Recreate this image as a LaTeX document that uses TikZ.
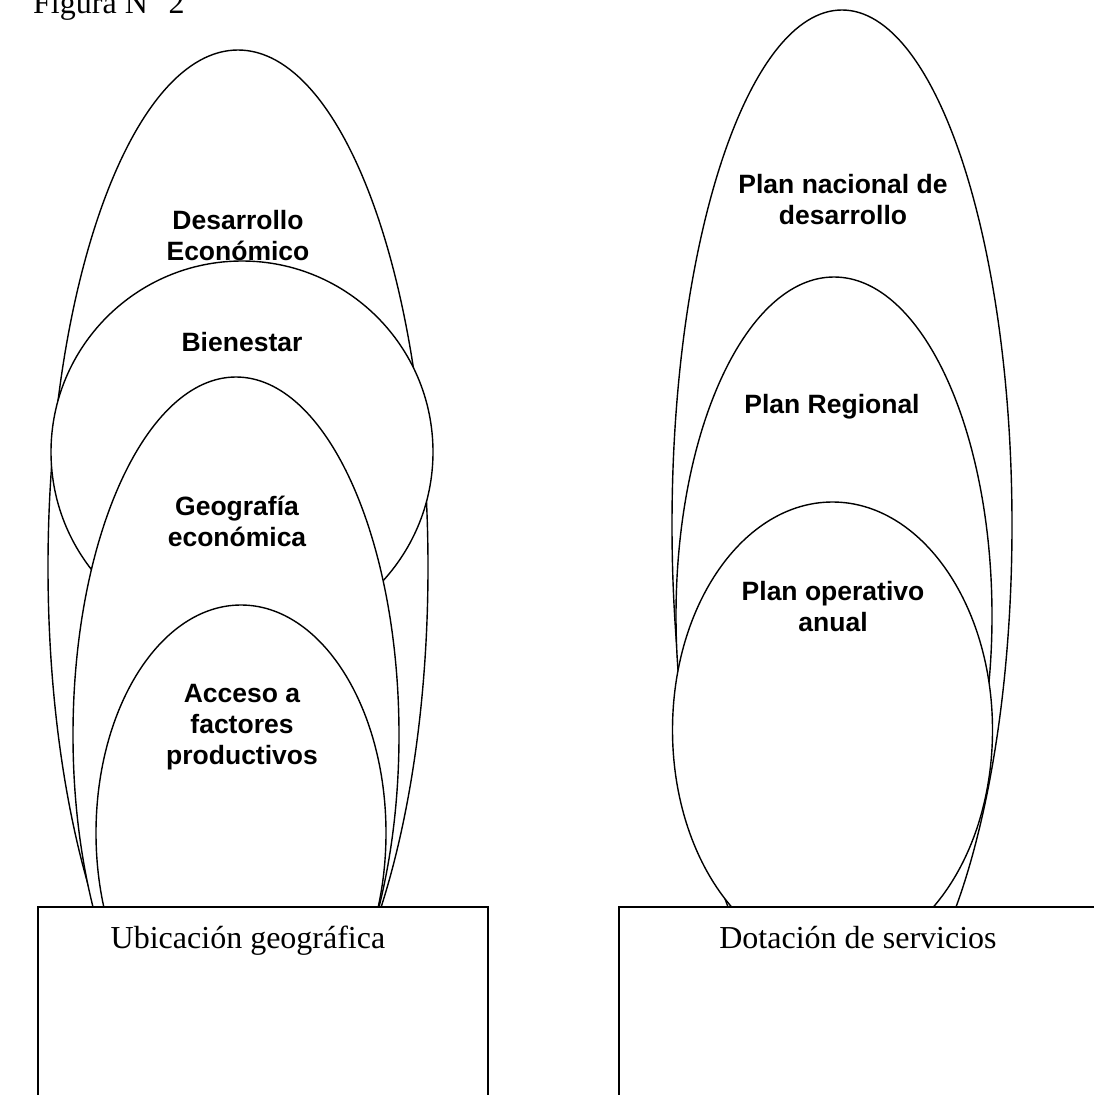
\documentclass[tikz,border=0pt]{standalone}
\usepackage{fontspec}
\setmainfont{Liberation Serif}
\newfontfamily\lsans{Liberation Sans}
\begin{document}
\begin{tikzpicture}[x=1pt,y=-1pt,
  shape line/.style={draw=black,line width=1.4pt,fill=white},
  lbl/.style={font=\lsans\bfseries\fontsize{26.5}{31}\selectfont,align=center,inner sep=0pt},
  boxtext/.style={font=\fontsize{32}{38}\selectfont,inner sep=0pt,anchor=base}]
\useasboundingbox (0,0) rectangle (1093,1095);
\fill[white] (0,0) rectangle (1093,1095);
% caption (cut at the top edge)
\node[font=\fontsize{32}{38}\selectfont,inner sep=0pt,anchor=base west] (fig) at (33,13) {Figura N\raisebox{5pt}{°} 2};
% left group
\draw[shape line] (238,567) ellipse [x radius=190, y radius=517];
\draw[shape line] (242,452) circle [radius=191];
\draw[shape line] (236,735) ellipse [x radius=163, y radius=358];
\draw[shape line] (241,833) ellipse [x radius=145, y radius=228];
% right group
\draw[shape line] (842,525) ellipse [x radius=170, y radius=515];
\draw[shape line] (834,616) ellipse [x radius=158, y radius=339];
\draw[shape line] (832.5,730) ellipse [x radius=160, y radius=228];
% labels
\node[lbl] (desa) at (238,236) {Desarrollo\\Económico};
\node[lbl] (bien) at (242,342) {Bienestar};
\node[lbl] (geo) at (237,521) {Geografía\\económica};
\node[lbl] (acc) at (242,727) {Acceso a\\factores\\productivos};
\node[lbl] (nac) at (843,200) {Plan nacional de\\desarrollo};
\node[lbl] (reg) at (832,407) {Plan Regional};
\node[lbl] (ope) at (833,607) {Plan operativo\\anual};
% bottom boxes (they run past the lower and right edges)
\draw[shape line] (38,907) rectangle (488,1120);
\draw[shape line] (619,907) rectangle (1120,1120);
\node[boxtext] (ubic) at (248,948) {Ubicación geográfica};
\node[boxtext] (dota) at (858,948) {Dotación de servicios};
\end{tikzpicture}
\end{document}
